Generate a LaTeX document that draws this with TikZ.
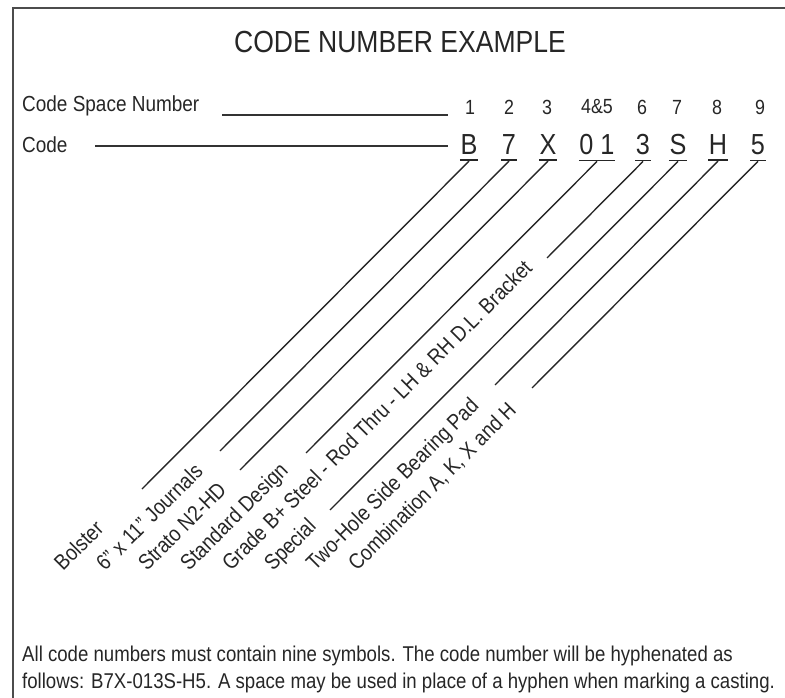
\documentclass[tikz,border=0pt]{standalone}
\usepackage{fontspec}
\setmainfont{Liberation Sans}[FakeStretch=0.87]
\begin{document}
\begin{tikzpicture}[x=1pt,y=-1pt,
  txt/.style={inner sep=0pt,text=black!85,font=\fontsize{21.8}{24}\selectfont},
  dig/.style={inner sep=0pt,text=black!85,font=\fontsize{20.5}{24}\selectfont},
  big/.style={inner sep=0pt,text=black!85,font=\fontsize{29}{32}\selectfont},
  lbl/.style={txt,rotate=45,anchor=base west},
  note/.style={inner sep=0pt,text=black!85,font=\fontsize{21.4}{24}\selectfont,anchor=base west},
  ln/.style={line width=1.4pt,black!85},
  ul/.style={line width=1.4pt,black!85},
  frame/.style={line width=2pt,black!70}]
\useasboundingbox (0,0) rectangle (785,698);
\draw[frame] (13,698) -- (13,8) -- (785,8);
\node[inner sep=0pt,text=black!85,font=\fontsize{30.5}{34}\selectfont] (title) at (400,42) {CODE NUMBER EXAMPLE};
\node[txt,anchor=west] (csn) at (22,106) {Code Space Number};
\node[txt,anchor=west] (code) at (22,145) {Code};
\coordinate (l1a) at (222,115);
\coordinate (l1b) at (448,115);
\draw[line width=1.8pt,black!80] (l1a) -- (l1b);
\coordinate (l2a) at (95,146);
\coordinate (l2b) at (448,146);
\draw[line width=1.8pt,black!80] (l2a) -- (l2b);
% digits
\node[dig] (d1) at (470,107) {1};
\node[dig] (d2) at (509,107) {2};
\node[dig] (d3) at (547,107) {3};
\node[dig] (d45) at (597,107) {4\&5};
\node[dig] (d6) at (642,107) {6};
\node[dig] (d7) at (677,107) {7};
\node[dig] (d8) at (717,107) {8};
\node[dig] (d9) at (760,107) {9};
% code letters
\node[big] (c1) at (469,145) {B};
\node[big] (c2) at (509,145) {7};
\node[big] (c3) at (548,145) {X};
\node[big] (c4) at (597,145) {0 1};
\node[big] (c5) at (643,145) {3};
\node[big] (c6) at (678,145) {S};
\node[big] (c7) at (718,145) {H};
\node[big] (c8) at (758,145) {5};
\foreach \i in {1,...,8}{
  \draw[ul] ([xshift=-0.5pt,yshift=-5pt]c\i.south west) -- ([xshift=0.5pt,yshift=-5pt]c\i.south east);
  \coordinate (u\i) at ([yshift=-6pt]c\i.south);
}
% line ends
\coordinate (e1) at (142,489);
\coordinate (e2) at (220,451);
\coordinate (e3) at (240,470);
\coordinate (e4) at (306,453);
\coordinate (e5) at (547,258);
\coordinate (e6) at (330,510);
\coordinate (e7) at (495,385);
\coordinate (e8) at (532,388);
\foreach \i in {1,...,8}{\draw[ln] (u\i) -- (e\i);}
% labels
\node[lbl] (t1) at (63,572) {Bolster};
\node[lbl] (t2) at (105,572) {6" x 11" Journals};
\node[lbl] (t3) at (147,572) {Strato N2-HD};
\node[lbl] (t4) at (189,572) {Standard Design};
\node[lbl] (t5) at (231,572) {Grade B+ Steel - Rod Thru - LH \& RH D.L. Bracket};
\node[lbl] (t6) at (273,572) {Special};
\node[lbl] (t7) at (315,572) {Two-Hole Side Bearing Pad};
\node[lbl] (t8) at (357,572) {Combination A, K, X and H};
% bottom text
\node[note] (n1) at (22,661) {All code numbers must contain nine symbols. The code number will be hyphenated as};
\node[note] (n2) at (22,688) {follows: B7X-013S-H5. A space may be used in place of a hyphen when marking a casting.};
\end{tikzpicture}
\end{document}
